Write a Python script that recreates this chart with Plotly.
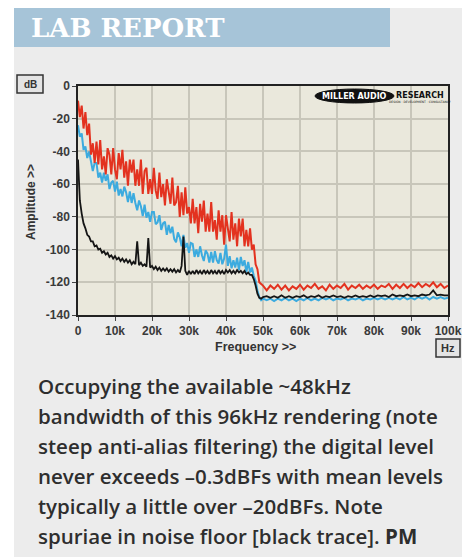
import plotly.graph_objects as go

# frequency axis in kHz: 0.5k steps up to 50k, then 1k steps
freq_khz = [
    0, 0.5, 1, 1.5, 2, 2.5, 3, 3.5, 4, 4.5, 5, 5.5, 6, 6.5, 7, 7.5, 8, 8.5, 9, 9.5,
    10, 10.5, 11, 11.5, 12, 12.5, 13, 13.5, 14, 14.5, 15, 15.5, 16, 16.5, 17, 17.5, 18, 18.5, 19, 19.5,
    20, 20.5, 21, 21.5, 22, 22.5, 23, 23.5, 24, 24.5, 25, 25.5, 26, 26.5, 27, 27.5, 28, 28.5, 29, 29.5,
    30, 30.5, 31, 31.5, 32, 32.5, 33, 33.5, 34, 34.5, 35, 35.5, 36, 36.5, 37, 37.5, 38, 38.5, 39, 39.5,
    40, 40.5, 41, 41.5, 42, 42.5, 43, 43.5, 44, 44.5, 45, 45.5, 46, 46.5, 47, 47.5, 48, 48.5, 49, 49.5,
    50, 51, 52, 53, 54, 55, 56, 57, 58, 59, 60, 61, 62, 63, 64, 65, 66, 67, 68, 69,
    70, 71, 72, 73, 74, 75, 76, 77, 78, 79, 80, 81, 82, 83, 84, 85, 86, 87, 88, 89,
    90, 91, 92, 93, 94, 95, 96, 97, 98, 99, 100,
]

# red trace - peak level spectrum
red_db = [
    -9, -19, -12, -26, -16, -30, -23, -42, -35, -47, -34, -48, -33, -51, -43, -54, -38, -42, -54, -38,
    -51, -57, -41, -51, -39, -56, -46, -61, -45, -53, -45, -61, -51, -61, -45, -66, -52, -50, -66, -57,
    -66, -50, -64, -69, -53, -68, -60, -73, -57, -64, -72, -56, -73, -71, -61, -80, -65, -79, -62, -78,
    -74, -84, -69, -84, -74, -90, -72, -83, -70, -89, -78, -89, -71, -89, -82, -94, -76, -89, -79, -97,
    -79, -87, -95, -77, -94, -84, -98, -81, -92, -81, -98, -88, -98, -87, -100, -97, -109, -112, -120, -121,
    -122, -125, -122, -124, -121.5, -124.5, -122, -125, -122.5, -124, -121.5, -124.5, -122, -123.5, -121, -124, -122.5, -125, -121.5, -124,
    -122, -123.5, -121, -124.5, -122, -123.5, -121.5, -124, -122, -123.5, -121.5, -124, -122, -123, -121, -124, -121.5, -123.5, -121, -123.5,
    -121.5, -123, -120.5, -123, -121, -122.5, -120, -123, -121, -123.5, -122,
]

# blue trace - mean level spectrum
blue_db = [
    -24, -31, -29, -39, -37, -44, -40, -47, -52, -47, -47, -56, -53, -59, -53, -58, -54, -63, -59, -58,
    -64.5, -58.5, -67, -63, -67.5, -61.5, -65, -71, -64.5, -71.5, -65.5, -71.5, -76, -70, -73.5, -79.5, -72.5, -80.5, -77, -83,
    -77, -77, -84.5, -83.5, -79, -88, -84, -83, -91, -85, -90, -86, -93.5, -95.5, -89.5, -92.5, -98, -91, -99, -96,
    -102, -96, -96.5, -104.5, -100, -104.5, -98, -103.5, -107, -100.5, -102.5, -108, -101.5, -108, -101, -106.5, -108.5, -102, -109, -105.5,
    -97, -110, -104, -111.5, -106.5, -111, -105, -112.5, -104.5, -110, -106.5, -114, -107.5, -114, -111, -116, -119, -125, -129, -131,
    -130, -131, -130, -131.5, -130, -131, -129.5, -131, -130, -131.5, -130, -131, -129.5, -131, -130, -131, -129.5, -130.5, -129.5, -131,
    -130, -130.5, -129.5, -131, -130, -130.5, -129.5, -131, -130, -130.5, -129.5, -130.5, -129.5, -130.5, -129.5, -130.5, -129.5, -130.5, -129, -130.5,
    -129.5, -130.5, -129, -130, -129, -130.5, -129, -130, -129, -130, -129.5,
]

# black trace - noise floor with spuriae
black_db = [
    -45, -70, -78, -84, -87, -91, -92, -95, -95, -98, -97.5, -100, -99.5, -102, -101, -103, -102, -104.5, -103.5, -105.5,
    -104, -106, -105, -107, -105.5, -107.5, -106, -108, -106.5, -109, -107.5, -109, -95, -109.5, -108, -110, -109, -110.5, -93, -111,
    -110, -112, -110.5, -112.5, -111, -113, -111.5, -113, -111.5, -113.5, -112, -113.5, -112, -114, -112.5, -114, -110, -92, -113, -115.5,
    -113, -115, -113, -115, -112.5, -114.5, -113, -115, -112.5, -114.5, -113, -115, -112.5, -114.5, -113, -115, -112.5, -114.5, -113, -115,
    -112.5, -114, -112.5, -114.5, -113, -114.5, -112.5, -114, -113, -114.5, -113, -115, -114, -115.5, -115.5, -118, -122, -127, -129.5, -130,
    -129, -128.5, -129.5, -128.5, -129.5, -128, -129.5, -128.5, -129.5, -128.5, -129, -128, -129.5, -128.5, -129, -128, -129.5, -128.5, -129, -128,
    -129, -128.5, -129.5, -128.5, -129, -128, -129, -128.5, -129, -128, -129, -128, -128.5, -128, -129, -127.5, -128.5, -128, -128.5, -127.5,
    -128.5, -128, -128.5, -127.5, -128, -127.5, -125, -128, -127.5, -128, -128,
]

x_ticks = [0, 10, 20, 30, 40, 50, 60, 70, 80, 90, 100]
x_labels = ["0", "10k", "20k", "30k", "40k", "50k", "60k", "70k", "80k", "90k", "100k"]
y_ticks = [0, -20, -40, -60, -80, -100, -120, -140]
y_labels = ["0", "-20", "-40", "-60", "-80", "-100", "-120", "-140"]

caption_lines = [
    "Occupying the available ~48kHz",
    "bandwidth of this 96kHz rendering (note",
    "steep anti-alias filtering) the digital level",
    "never exceeds \u20130.3dBFs with mean levels",
    "typically a little over \u201320dBFs. Note",
    "spuriae in noise floor [black trace]. <b>PM</b>",
]

# plot area in screen pixels; the page body adds an 8px margin
OFF = 8
L, R, T, B = 78, 448, 86, 315


def fx(px):
    return (px - L) / (R - L)


def fy(py):
    return (B - py) / (B - T)


fig = go.Figure()
fig.add_trace(go.Scatter(x=freq_khz, y=blue_db, mode="lines",
                         line=dict(color="#3cabdf", width=2), hoverinfo="skip"))
fig.add_trace(go.Scatter(x=freq_khz, y=black_db, mode="lines",
                         line=dict(color="#151515", width=1.8), hoverinfo="skip"))
fig.add_trace(go.Scatter(x=freq_khz, y=red_db, mode="lines",
                         line=dict(color="#e3321f", width=2), hoverinfo="skip"))

tickfont = dict(family="Liberation Sans", size=12, color="#3a3a3a", weight="bold")
axis_common = dict(
    showgrid=True, gridcolor="#c8c6ba", gridwidth=1.6,
    showline=True, linecolor="#222222", linewidth=1.5, mirror=True,
    ticks="outside", ticklen=4, tickcolor="#444444", tickwidth=1,
    zeroline=False, tickfont=tickfont,
)

shapes = [
    # white page edges around the grey panel
    dict(type="rect", xref="paper", yref="paper", x0=fx(0), x1=fx(14), y0=fy(0), y1=fy(580),
         fillcolor="white", line_width=0, layer="below"),
    dict(type="rect", xref="paper", yref="paper", x0=fx(463), x1=fx(480), y0=fy(0), y1=fy(580),
         fillcolor="white", line_width=0, layer="below"),
    dict(type="rect", xref="paper", yref="paper", x0=fx(0), x1=fx(480), y0=fy(557), y1=fy(580),
         fillcolor="white", line_width=0, layer="below"),
    # header bar
    dict(type="rect", xref="paper", yref="paper", x0=fx(14), x1=fx(390), y0=fy(8), y1=fy(47),
         fillcolor="#a6c4d8", line_width=0, layer="below"),
    # unit boxes
    dict(type="rect", xref="paper", yref="paper", x0=fx(17), x1=fx(43), y0=fy(75), y1=fy(93),
         fillcolor="#e4e4e4", line=dict(color="#333333", width=1.5)),
    dict(type="rect", xref="paper", yref="paper", x0=fx(436), x1=fx(460), y0=fy(339), y1=fy(357),
         fillcolor="#e4e4e4", line=dict(color="#333333", width=1.5)),
    # logo ellipse
    dict(type="circle", xref="paper", yref="paper", x0=fx(315), x1=fx(394), y0=fy(89), y1=fy(103),
         fillcolor="#111111", line=dict(color="#111111", width=1)),
]

annotations = [
    dict(text="LAB REPORT", x=fx(29), y=fy(28), xanchor="left", yanchor="middle",
         font=dict(family="DejaVu Serif", size=26, color="white", weight="bold")),
    dict(text="dB", x=fx(30), y=fy(84), xanchor="center", yanchor="middle",
         font=dict(family="Liberation Sans", size=10, color="#333333", weight="bold")),
    dict(text="Hz", x=fx(448), y=fy(348), xanchor="center", yanchor="middle",
         font=dict(family="Liberation Sans", size=11, color="#333333", weight="bold")),
    dict(text="Amplitude >>", x=fx(31), y=fy(202), textangle=-90, xanchor="center", yanchor="middle",
         font=dict(family="Liberation Sans", size=12, color="#333333", weight="bold")),
    dict(text="Frequency >>", x=fx(255), y=fy(347), xanchor="center", yanchor="middle",
         font=dict(family="Liberation Sans", size=12.5, color="#333333", weight="bold")),
    dict(text="MILLER AUDIO", x=fx(354), y=fy(96), xanchor="center", yanchor="middle",
         font=dict(family="DejaVu Sans", size=8, color="white", weight="bold")),
    dict(text="RESEARCH", x=fx(420), y=fy(95), xanchor="center", yanchor="middle",
         font=dict(family="DejaVu Sans", size=8, color="#111111", weight="bold")),
    dict(text="DESIGN \u00b7 DEVELOPMENT \u00b7 CONSULTANCY", x=fx(420), y=fy(102), xanchor="center", yanchor="middle",
         font=dict(family="DejaVu Sans", size=3, color="#111111")),
]

caption_y = [386, 416, 446, 476, 506, 536]
for line, ypx in zip(caption_lines, caption_y):
    annotations.append(dict(
        text=line, x=fx(36), y=fy(ypx), xanchor="left", yanchor="middle",
        font=dict(family="Open Sans", size=20.5, color="#2e2e2e", weight=600),
    ))

for a in annotations:
    a.update(xref="paper", yref="paper", showarrow=False)

fig.update_layout(
    width=470, height=560, autosize=False,
    margin=dict(l=L - OFF, r=470 - (R - OFF), t=T - OFF, b=560 - (B - OFF), pad=0),
    paper_bgcolor="#ececec", plot_bgcolor="#eae8dc",
    showlegend=False,
    xaxis=dict(range=[0, 100], tickvals=x_ticks, ticktext=x_labels, **axis_common),
    yaxis=dict(range=[-140, 0], tickvals=y_ticks, ticktext=y_labels, **axis_common),
    shapes=shapes,
    annotations=annotations,
)

fig.write_html("out.html")
